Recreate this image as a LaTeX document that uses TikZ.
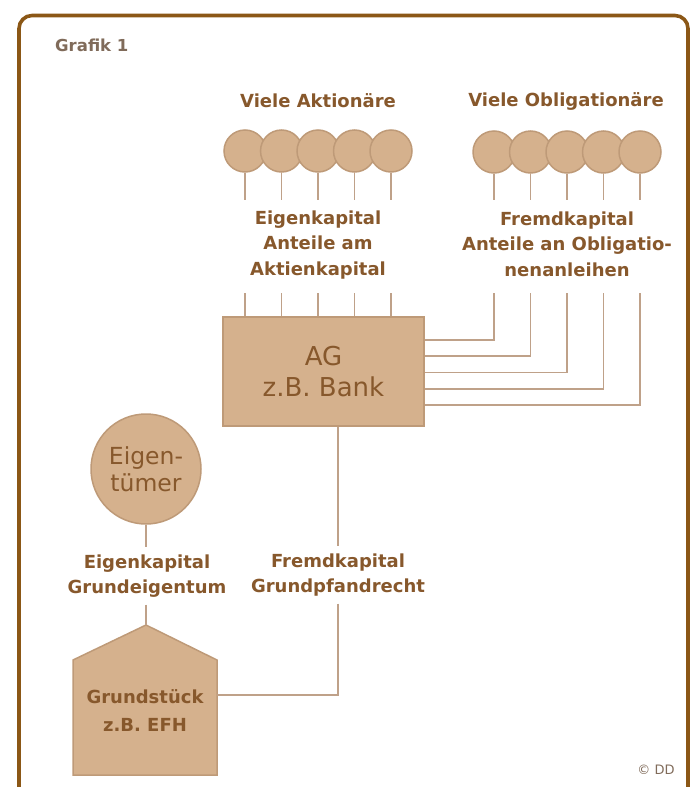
\documentclass[tikz,border=0pt]{standalone}
\usepackage{fontspec}
\setmainfont{DejaVu Sans}
\usetikzlibrary{calc}

\definecolor{rahmen}{HTML}{8B5716}
\definecolor{hellbraun}{HTML}{D5B18D}
\definecolor{randbraun}{HTML}{BE9A78}
\definecolor{linie}{HTML}{BFA189}
\definecolor{schrift}{HTML}{87582C}
\definecolor{grauschrift}{HTML}{806B5A}

\begin{document}
\begin{tikzpicture}[x=1pt, y=-1pt,
  lbl/.style={font=\bfseries\fontsize{18}{25.5}\selectfont, text=schrift,
    align=center, inner sep=0pt},
  person/.style={circle, fill=hellbraun, draw=randbraun, line width=1.5pt,
    minimum size=42pt, inner sep=0pt},
  kasten/.style={fill=hellbraun, draw=randbraun, line width=1.5pt},
  verb/.style={linie, line width=1.8pt}]
  \useasboundingbox (0,0) rectangle (695,787);

  % Frame
  \draw[rahmen, line width=3.6pt, rounded corners=13pt]
    (19,800) |- (688,15.5) -- (688,800);
  \node[font=\bfseries\fontsize{16.5}{20}\selectfont, text=grauschrift,
    anchor=west, inner sep=0pt] (titel) at (55,45) {Grafik 1};

  % Shareholders and bondholders
  \node[lbl] (aktTitel) at (318,101) {Viele Aktionäre};
  \node[lbl] (oblTitel) at (566,101) {Viele Obligationäre};
  \foreach \i in {0,...,4}{
    \node[person] (a\i) at ({245+36.5*\i},151) {};
    \node[person] (o\i) at ({494+36.5*\i},152) {};
  }

  % Shares
  \node[lbl] (ek1) at (318,245) {Eigenkapital\\Anteile am\\Aktienkapital};
  \node[lbl] (fk1) at (567,244) {Fremdkapital\\Anteile an Obligatio-\\nenanleihen};
  \coordinate (oben) at (0,200);
  \coordinate (unten) at (0,293);

  % AG
  \node[kasten, minimum width=201pt, minimum height=109pt,
    font=\fontsize{26}{31}\selectfont, text=schrift, align=center]
    (bank) at (323.5,371.5) {AG\\z.B. Bank};

  \foreach \i in {0,...,4}{
    \draw[verb] (a\i.south) -- (a\i |- oben);
    \draw[verb] (a\i |- unten) -- (a\i |- bank.north);
    \draw[verb] (o\i.south) -- (o\i |- oben);
    \draw[verb] (o\i |- unten) |- ([yshift={31.5-16.25*\i}]bank.east);
  }

  % Owner
  \node[circle, fill=hellbraun, draw=randbraun, line width=1.5pt,
    minimum size=110pt, inner sep=0pt, font=\fontsize{23.5}{27}\selectfont,
    text=schrift, align=center] (eigner) at (146,469) {Eigen-\\tümer};
  \node[lbl, inner sep=7pt] (ek2) at (147,576) {Eigenkapital\\Grundeigentum};
  \node[lbl, inner sep=7pt] (fk2) at (338,575) {Fremdkapital\\Grundpfandrecht};
  \draw[verb] (eigner.south) -- (eigner.south |- ek2.north);
  \draw[verb] (bank.south -| fk2) -- (fk2.north);

  % House
  \filldraw[kasten] (73,660) -- (146,625) coordinate (giebel)
    -- (217,660) -- (217,775) -- (73,775) -- cycle;
  \coordinate (hausrechts) at (217,695);
  \node[lbl, font=\bfseries\fontsize{18}{28}\selectfont] (haus) at (145,711)
    {Grundstück\\z.B. EFH};
  \draw[verb] (ek2.south -| giebel) -- (giebel);
  \draw[verb] (fk2.south) |- (hausrechts);

  \node[font=\fontsize{13}{15}\selectfont, text=grauschrift, inner sep=0pt]
    (copy) at (656,770) {© DD};
\end{tikzpicture}
\end{document}
